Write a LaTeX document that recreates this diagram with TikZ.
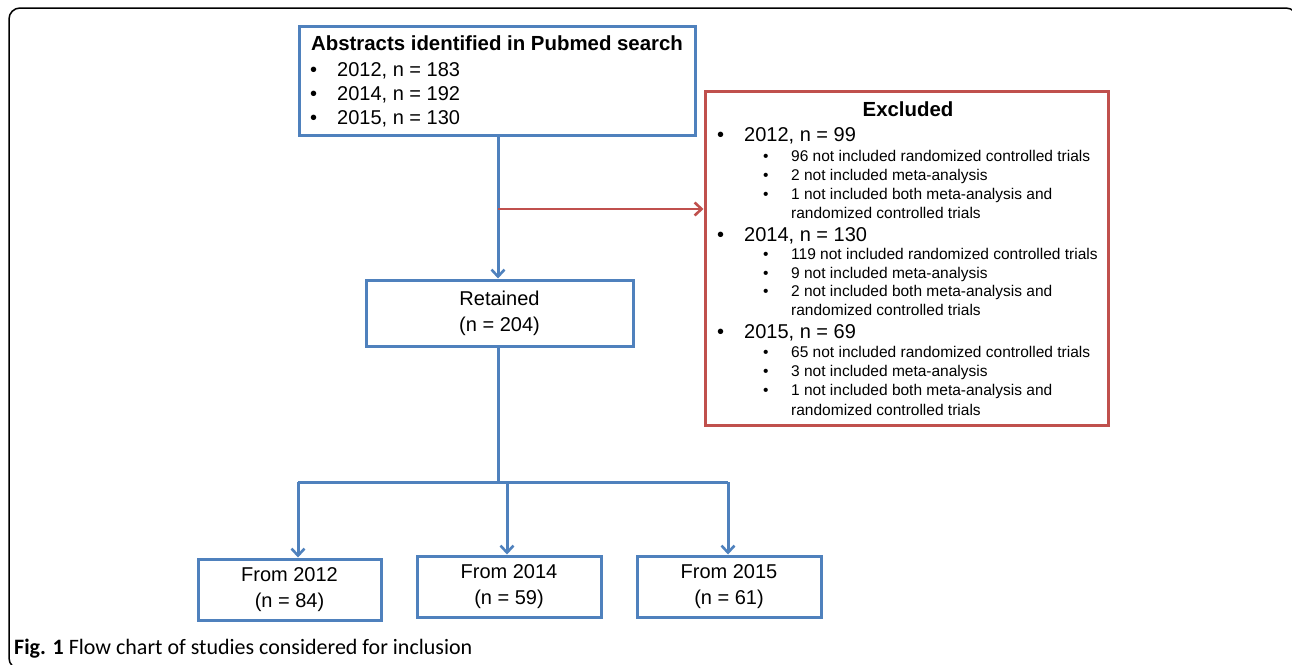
\documentclass[tikz,border=0pt]{standalone}
\usepackage{fontspec}
\setmainfont{Liberation Sans}
\newfontfamily\capfont{Carlito}
\usetikzlibrary{arrows.meta}
\definecolor{flowblue}{RGB}{79,129,189}
\definecolor{flowred}{RGB}{192,80,77}
\begin{document}
\begin{tikzpicture}[x=1pt,y=-1pt,
  bluebox/.style={draw=flowblue,line width=3pt,fill=white,inner sep=0pt},
  redbox/.style={draw=flowred,line width=3pt,fill=white,inner sep=0pt},
  blueline/.style={draw=flowblue,line width=3pt},
  redline/.style={draw=flowred,line width=2.8pt},
  tip/.style={-{Straight Barb[length=7pt,width=13pt,line width=2.6pt]}},
  txt/.style={inner sep=0pt,anchor=base west,font=\fontsize{20}{24}\selectfont},
  subtxt/.style={inner sep=0pt,anchor=base west,font=\fontsize{15.5}{18}\selectfont},
  boxtxt/.style={align=center,font=\fontsize{20}{26}\selectfont}
]
\useasboundingbox (0,0) rectangle (1292,664);
% outer frame
\draw[black,line width=1.5pt,rounded corners=11pt] (9,8) rectangle (1297,669);

% top box
\node[bluebox,minimum width=396pt,minimum height=109pt] (abs) at (497,80.5) {};
\node[inner sep=0pt,anchor=base,font=\bfseries\fontsize{20.4}{24}\selectfont] (abst) at (497,50) {Abstracts identified in Pubmed search};
\node[txt] (ab1) at (310,76) {•}; \node[txt] (ab1t) at (337,76) {2012, n = 183};
\node[txt] (ab2) at (310,100) {•}; \node[txt] (ab2t) at (337,100) {2014, n = 192};
\node[txt] (ab3) at (310,124) {•}; \node[txt] (ab3t) at (337,124) {2015, n = 130};

% excluded box
\node[redbox,minimum width=403pt,minimum height=334pt] (ex) at (906.5,258) {};
\node[inner sep=0pt,anchor=base,font=\bfseries\fontsize{20.4}{24}\selectfont] (ext) at (908,116.5) {Excluded};
% 2012
\node[txt] (e1) at (717,141) {•}; \node[txt] (e1t) at (744,141) {2012, n = 99};
\node[subtxt] (e1a) at (763,161.5) {•}; \node[subtxt] (e1at) at (791,161.5) {96 not included randomized controlled trials};
\node[subtxt] (e1b) at (763,180.5) {•}; \node[subtxt] (e1bt) at (791,180.5) {2 not included meta-analysis};
\node[subtxt] (e1c) at (763,199.5) {•}; \node[subtxt] (e1ct) at (791,199.5) {1 not included both meta-analysis and};
\node[subtxt] (e1d) at (791,218.5) {randomized controlled trials};
% 2014
\node[txt] (e2) at (717,241.5) {•}; \node[txt] (e2t) at (744,241.5) {2014, n = 130};
\node[subtxt] (e2a) at (763,259.5) {•}; \node[subtxt] (e2at) at (791,259.5) {119 not included randomized controlled trials};
\node[subtxt] (e2b) at (763,278) {•}; \node[subtxt] (e2bt) at (791,278) {9 not included meta-analysis};
\node[subtxt] (e2c) at (763,296.5) {•}; \node[subtxt] (e2ct) at (791,296.5) {2 not included both meta-analysis and};
\node[subtxt] (e2d) at (791,315.5) {randomized controlled trials};
% 2015
\node[txt] (e3) at (717,338.5) {•}; \node[txt] (e3t) at (744,338.5) {2015, n = 69};
\node[subtxt] (e3a) at (763,357.5) {•}; \node[subtxt] (e3at) at (791,357.5) {65 not included randomized controlled trials};
\node[subtxt] (e3b) at (763,376.5) {•}; \node[subtxt] (e3bt) at (791,376.5) {3 not included meta-analysis};
\node[subtxt] (e3c) at (763,395.5) {•}; \node[subtxt] (e3ct) at (791,395.5) {1 not included both meta-analysis and};
\node[subtxt] (e3d) at (791,415) {randomized controlled trials};

% retained
\node[bluebox,boxtxt,minimum width=267pt,minimum height=66pt] (ret) at (499.5,313) {Retained\\(n = 204)};

% bottom boxes
\node[bluebox,boxtxt,minimum width=183pt,minimum height=61pt] (b1) at (289.5,589.5) {From 2012\\(n = 84)};
\node[bluebox,boxtxt,minimum width=184pt,minimum height=61pt] (b2) at (509,586.5) {From 2014\\(n = 59)};
\node[bluebox,boxtxt,minimum width=184pt,minimum height=61pt] (b3) at (729,586.5) {From 2015\\(n = 61)};

% connectors
\coordinate (top) at (498,135);
\coordinate (split) at (498,209);
\coordinate (mid) at (498,482);
\coordinate (a1) at (298,482);
\coordinate (a2) at (507,482);
\coordinate (a3) at (728,482);

\draw[blueline,tip] (top) -- (top |- ret.north);
\draw[redline,tip] (split) -- (split -| ex.west);
\draw[blueline] (top |- ret.south) -- (mid);
\draw[blueline] (a1) -- (a3);
\draw[blueline,tip] (a1) -- (a1 |- b1.north);
\draw[blueline,tip] (a2) -- (a2 |- b2.north);
\draw[blueline,tip] (a3) -- (a3 |- b3.north);

% caption
\node[inner sep=0pt,anchor=base west,font=\capfont\fontsize{22}{26}\selectfont] (cap) at (14,654) {\textbf{Fig. 1} Flow chart of studies considered for inclusion};
\end{tikzpicture}
\end{document}
